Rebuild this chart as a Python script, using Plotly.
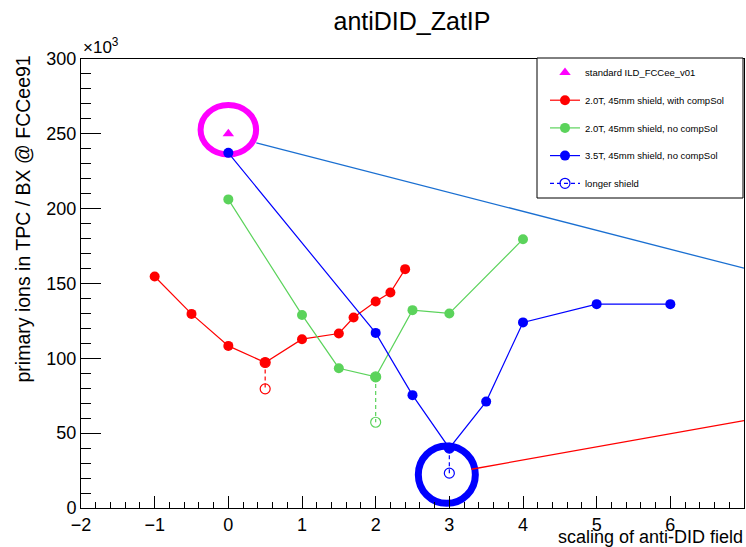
import plotly.graph_objects as go

# anti-DID field scaling scan: primary ions in the TPC per bunch crossing (in units of 10^3)
x_red = [-1.0, -0.5, 0.0, 0.5, 1.0, 1.5, 1.7, 2.0, 2.2, 2.4]
y_red = [154.7, 129.7, 108.3, 97.2, 112.8, 116.6, 127.3, 138.0, 144.0, 159.6]

x_green = [0.0, 1.0, 1.5, 2.0, 2.5, 3.0, 4.0]
y_green = [206.2, 129.0, 93.4, 87.6, 132.2, 130.0, 179.6]

x_blue = [0.0, 2.0, 2.5, 3.0, 3.5, 4.0, 5.0, 6.0]
y_blue = [237.3, 117.0, 75.4, 40.0, 71.1, 124.0, 136.2, 136.2]

# standard ILD_FCCee_v01 reference point
x_std = [0.0]
y_std = [250.0]

# longer-shield variants: (scaling, value with 45mm shield, value with longer shield)
long_red = (0.5, 97.2, 79.6)
long_green = (2.0, 87.6, 57.3)
long_blue = (3.0, 40.0, 23.3)

x_ticks = [-2, -1, 0, 1, 2, 3, 4, 5, 6, 7]
y_ticks = [0, 50, 100, 150, 200, 250, 300]

RED = "#ff0000"
GREEN = "#5bd35b"
BLUE = "#0000ff"
MAGENTA = "#ff00ff"
AZURE = "#1a6fd1"
FONT = "Liberation Sans, Arial, Helvetica, sans-serif"

W, H = 746, 547
ML, MR, MT, MB = 81, 2, 59, 39
PW, PH = W - ML - MR, H - MT - MB


def px_to_paper_x(px):
    return (px - ML) / PW


def px_to_paper_y(py):
    return (H - MB - py) / PH


fig = go.Figure()

# dashed drop lines to the longer-shield points (drawn first, beneath the main markers)
for (xv, y_top, y_low), col, show in [(long_red, RED, False),
                                      (long_green, GREEN, False),
                                      (long_blue, BLUE, True)]:
    fig.add_trace(go.Scatter(
        x=[xv, xv], y=[y_top, y_low], mode="lines+markers",
        line=dict(color=col, width=1.2, dash="4px,3px"),
        marker=dict(symbol="circle-open", size=10, color=col, line=dict(width=1.2, color=col)),
        name="longer shield", showlegend=show, legendgroup="long", legendrank=5,
    ))

series = [
    (x_red, y_red, RED, "2.0T, 45mm shield, with compSol", 2),
    (x_green, y_green, GREEN, "2.0T, 45mm shield, no compSol", 3),
    (x_blue, y_blue, BLUE, "3.5T, 45mm shield, no compSol", 4),
]
for xs, ys, col, name, rank in series:
    fig.add_trace(go.Scatter(
        x=xs, y=ys, mode="lines+markers",
        line=dict(color=col, width=1.2),
        marker=dict(symbol="circle", size=10, color=col),
        name=name, legendgroup=name, legendrank=rank,
    ))

fig.add_trace(go.Scatter(
    x=x_std, y=y_std, mode="markers",
    marker=dict(symbol="triangle-up", size=10, color=MAGENTA),
    name="standard ILD_FCCee_v01", legendgroup="std", legendrank=1,
))

# highlight rings and connector lines
fig.add_shape(type="circle", xref="x", yref="y", layer="below",
              x0=0.0 - 0.377, x1=0.0 + 0.377, y0=252.7 - 16.5, y1=252.7 + 16.5,
              line=dict(color=MAGENTA, width=6))
fig.add_shape(type="circle", xref="x", yref="y", layer="below",
              x0=2.966 - 0.387, x1=2.966 + 0.387, y0=22.3 - 19.2, y1=22.3 + 19.2,
              line=dict(color=BLUE, width=7))
fig.add_shape(type="line", xref="x", yref="y", layer="below",
              x0=0.38, y0=244.0, x1=7.0, y1=160.2,
              line=dict(color=AZURE, width=1.3))
fig.add_shape(type="line", xref="x", yref="y", layer="below",
              x0=3.30, y0=25.9, x1=7.0, y1=58.4,
              line=dict(color=RED, width=1.3))

# legend frame
fig.add_shape(type="rect", xref="paper", yref="paper", layer="above",
              x0=px_to_paper_x(537), x1=px_to_paper_x(743),
              y0=px_to_paper_y(198), y1=px_to_paper_y(58),
              fillcolor="white", line=dict(color="black", width=1))

axis_common = dict(
    showline=True, linecolor="black", linewidth=1, mirror=True,
    showgrid=False, zeroline=False, ticks="inside", tickcolor="black", tickwidth=1,
    tickfont=dict(family=FONT, size=18, color="black"),
)

fig.update_xaxes(range=[-2, 7], tickmode="array", tickvals=x_ticks,
                 ticktext=[str(v).replace("-", "\u2212") for v in x_ticks],
                 ticklen=12,
                 minor=dict(ticks="inside", ticklen=6, tickcolor="black", dtick=0.2, tick0=-2),
                 **axis_common)
fig.update_yaxes(range=[0, 300], tickmode="array", tickvals=y_ticks,
                 ticktext=[str(v) for v in y_ticks], ticklen=20,
                 minor=dict(ticks="inside", ticklen=10, tickcolor="black", dtick=10, tick0=0),
                 **axis_common)

fig.add_annotation(text="\u00d710<sup>3</sup>", xref="paper", yref="paper",
                   x=0.0, y=1.0, xanchor="left", yanchor="bottom", showarrow=False,
                   font=dict(family=FONT, size=17, color="black"))
fig.add_annotation(text="primary ions in TPC / BX @ FCCee91", textangle=-90,
                   xref="paper", yref="paper", x=px_to_paper_x(22), y=px_to_paper_y(54),
                   xanchor="center", yanchor="top", showarrow=False,
                   font=dict(family=FONT, size=19.5, color="black"))
fig.add_annotation(text="scaling of anti-DID field", xref="paper", yref="paper",
                   x=px_to_paper_x(745), y=px_to_paper_y(536.5), xanchor="right", yanchor="middle",
                   showarrow=False, font=dict(family=FONT, size=18, color="black"))

fig.update_layout(
    width=W, height=H,
    margin=dict(l=ML, r=MR, t=MT, b=MB),
    paper_bgcolor="white", plot_bgcolor="white",
    title=dict(text="antiDID_ZatIP", x=412 / W, xanchor="center",
               y=1 - 21 / H, yanchor="middle", xref="container", yref="container",
               font=dict(family=FONT, size=25, color="black")),
    legend=dict(x=px_to_paper_x(545), y=px_to_paper_y(58), xanchor="left", yanchor="top",
                bgcolor="rgba(0,0,0,0)", borderwidth=0,
                font=dict(family=FONT, size=9.5, color="black"),
                tracegroupgap=8.7, traceorder="grouped"),
    showlegend=True,
)

fig.write_html("out.html")
